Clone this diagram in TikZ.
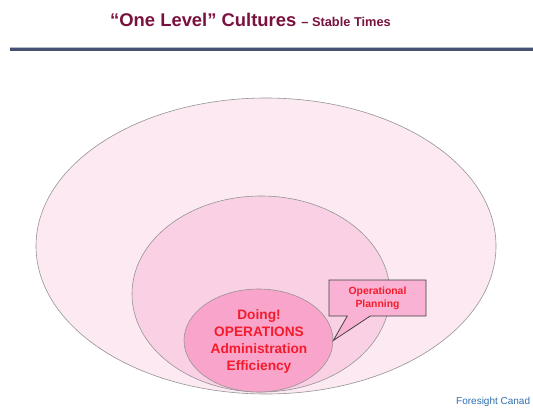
\documentclass[tikz,border=0pt]{standalone}
\usepackage{fontspec}
\setmainfont{Liberation Sans}
\usetikzlibrary{shapes.geometric,shapes.callouts}
\definecolor{titlered}{HTML}{7A1240}
\definecolor{ruledark}{HTML}{465070}
\definecolor{rulelight}{HTML}{B4BCCC}
\definecolor{pinkA}{HTML}{FCE9F2}
\definecolor{pinkB}{HTML}{FAD1E4}
\definecolor{pinkC}{HTML}{F9A4CB}
\definecolor{pinkD}{HTML}{F9B2D3}
\definecolor{labelred}{HTML}{F41C2C}
\definecolor{footblue}{HTML}{2F6FB0}
\tikzset{
  ring/.style={draw=black!42, line width=0.6pt, ellipse, inner sep=0pt},
  bold label/.style={text=labelred, align=center},
}
\begin{document}
\begin{tikzpicture}[x=1pt, y=-1pt]
\useasboundingbox (0,0) rectangle (533,413);
\fill[white] (0,0) rectangle (533,413);

% heading and rule
\node[anchor=base west, inner sep=0pt, text=titlered, font=\bfseries] (title) at (110,26)
  {\fontsize{18.4}{22}\selectfont “One Level” Cultures {\fontsize{12.8}{15}\selectfont – Stable Times}};
\coordinate (ruleL) at (10,49.5);
\coordinate (ruleR) at (533,49.5);
\draw[rulelight, line width=1.2pt] ([yshift=2pt]ruleL) -- ([yshift=2pt]ruleR);
\draw[ruledark, line width=2.6pt] (ruleL) -- (ruleR);

% nested ellipses
\node[ring, fill=pinkA, minimum width=460pt, minimum height=296pt] (outer) at (266,246) {};
\node[ring, fill=pinkB, minimum width=258pt, minimum height=196pt] (middle) at (261,294) {};
\node[ring, fill=pinkC, minimum width=149pt, minimum height=103pt] (inner) at (258.5,340.5) {};
\node[bold label, font=\bfseries\fontsize{13.7}{17}\selectfont] (core) at (259,341.5)
  {Doing!\\OPERATIONS\\Administration\\Efficiency};

% callout pointing at the inner ellipse
\node[rectangle callout, draw=black!75, line width=0.8pt, fill=pinkD,
      minimum width=97pt, minimum height=36pt, inner sep=0pt,
      callout absolute pointer={(inner.east)}, callout pointer width=23pt,
      bold label, font=\bfseries\fontsize{10.4}{13}\selectfont] (callout) at (377.5,298)
  {Operational\\Planning};

% footer
\node[anchor=base west, inner sep=0pt, text=footblue,
      font=\fontsize{10}{12}\selectfont] (foot) at (456,404) {Foresight Canad};
\end{tikzpicture}
\end{document}
